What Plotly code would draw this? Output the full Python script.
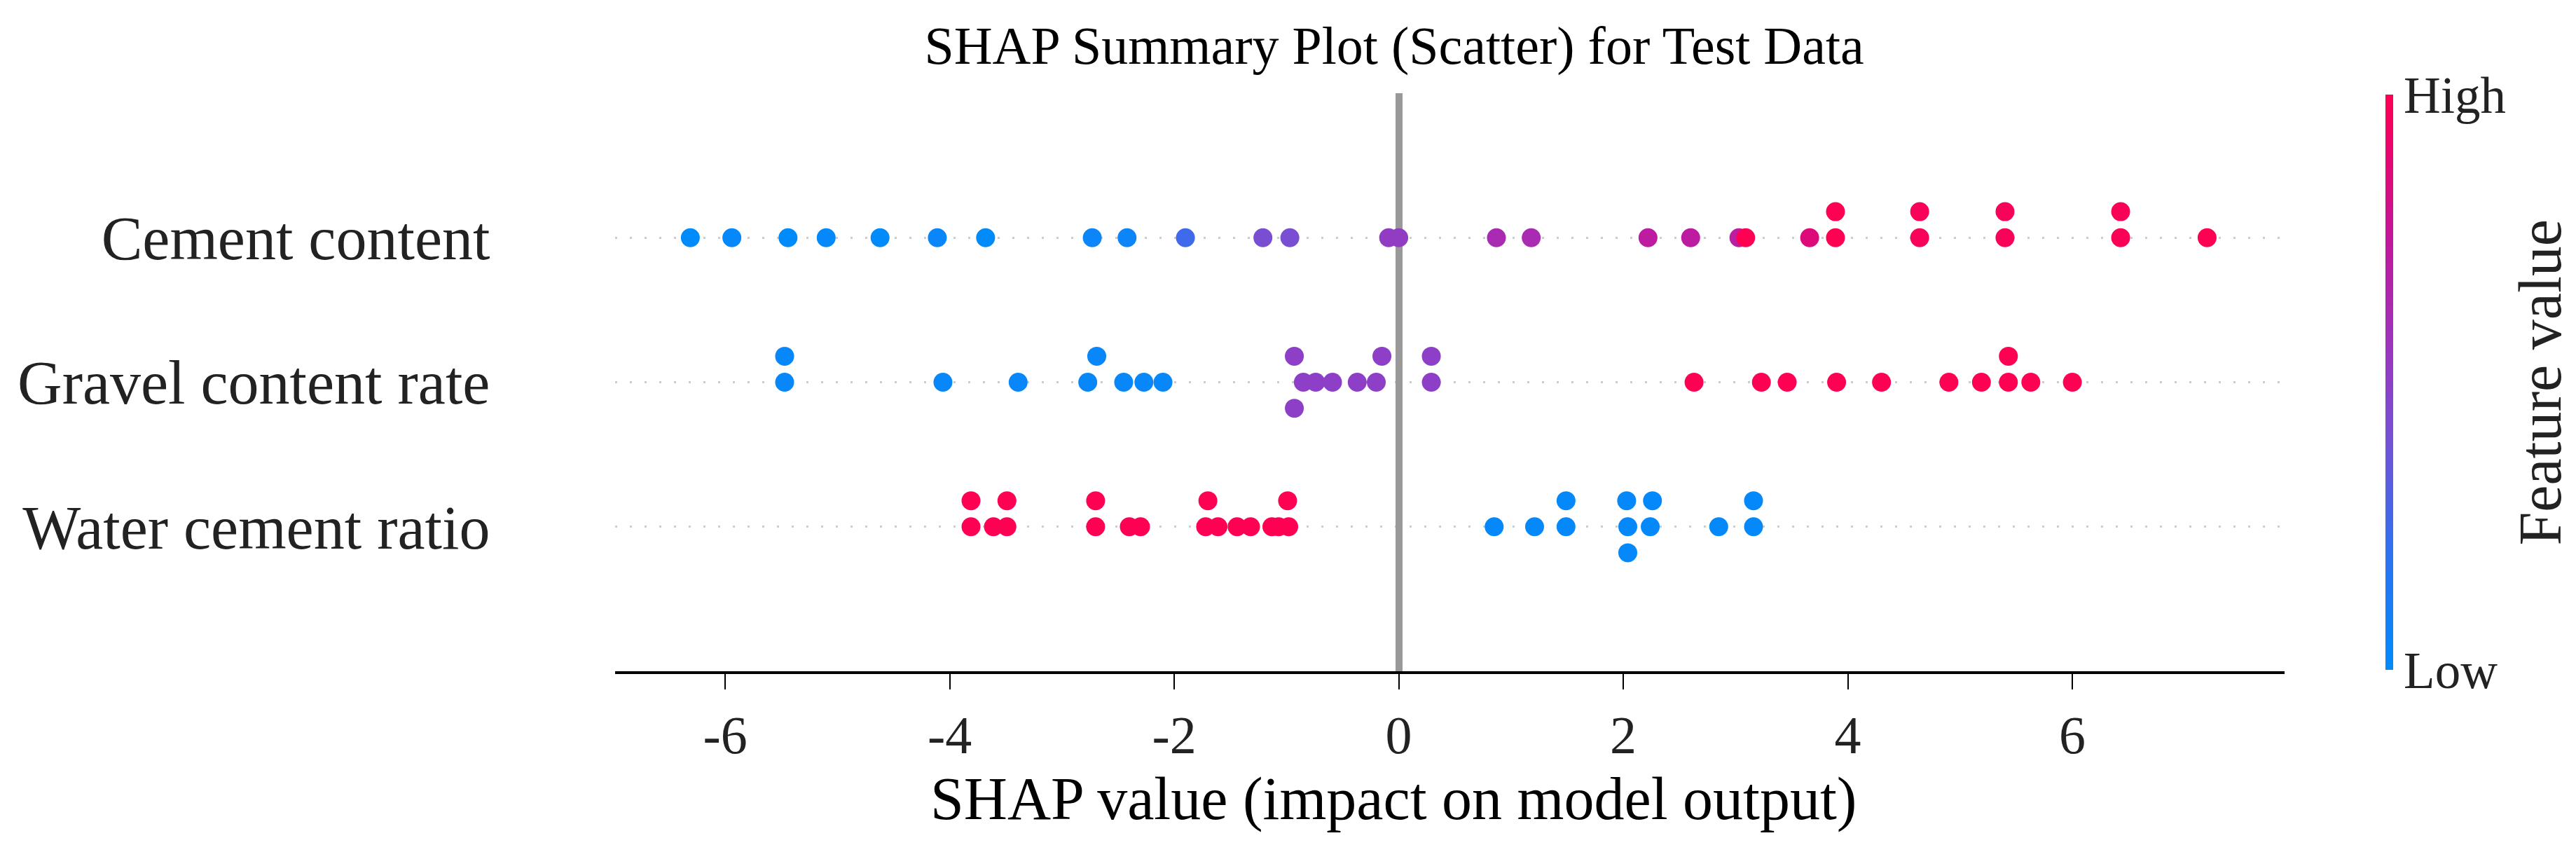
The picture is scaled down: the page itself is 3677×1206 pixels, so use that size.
import plotly.graph_objects as go

# features, bottom row first (y = 0, 1, 2)
features = ["Water cement ratio", "Gravel content rate", "Cement content"]

# SHAP values per feature
water_shap = [-3.81, -3.49, -3.81, -3.61, -3.49, -2.70, -2.70, -2.40, -2.30,
              -1.70, -0.99, -1.72, -1.61, -1.44, -1.32, -1.13, -1.07, -0.98,
              0.85, 1.21, 1.49, 1.49, 2.03, 2.04, 2.04, 2.26, 2.24, 2.85, 3.16, 3.16]
water_level = [1, 1, 0, 0, 0, 1, 0, 0, 0,
               1, 1, 0, 0, 0, 0, 0, 0, 0,
               0, 0, 1, 0, 1, 0, -1, 1, 0, 0, 1, 0]
water_fv = [1, 1, 1, 1, 1, 1, 1, 1, 1,
            1, 1, 1, 1, 1, 1, 1, 1, 1,
            0.02, 0.02, 0.02, 0.02, 0.02, 0.02, 0.02, 0.02, 0.02, 0.02, 0.02, 0.02]

gravel_shap = [-5.47, -5.47, -4.06, -3.39, -2.77, -2.69, -2.45, -2.27, -2.10,
               -0.93, -0.85, -0.74, -0.59, -0.37, -0.20, -0.93, -0.15, 0.29, 0.29,
               2.63, 3.23, 3.46, 3.90, 4.30, 4.90, 5.19, 5.43, 5.43, 5.63, 6.00]
gravel_level = [1, 0, 0, 0, 0, 1, 0, 0, 0,
                1, 0, 0, 0, 0, 0, -1, 1, 1, 0,
                0, 0, 0, 0, 0, 0, 0, 0, 1, 0, 0]
gravel_fv = [0.03, 0.03, 0.03, 0.03, 0.03, 0.03, 0.03, 0.03, 0.03,
             0.5, 0.5, 0.5, 0.5, 0.5, 0.5, 0.5, 0.5, 0.5, 0.5,
             1, 1, 1, 1, 1, 1, 1, 1, 1, 1, 1]

cement_shap = [-6.31, -5.94, -5.44, -5.10, -4.62, -4.11, -3.68, -2.73, -2.42, -1.90,
               -1.21, -0.97, -0.09, 0.0, 0.87, 1.18, 2.22, 2.60, 3.03, 3.09,
               3.66, 3.89, 3.89, 4.64, 4.64, 5.40, 5.40, 6.43, 6.43, 7.20]
cement_level = [0, 0, 0, 0, 0, 0, 0, 0, 0, 0,
                0, 0, 0, 0, 0, 0, 0, 0, 0, 0,
                0, 0, 1, 0, 1, 0, 1, 0, 1, 0]
cement_fv = [0.0, 0.02, 0.0, 0.02, 0.0, 0.04, 0.0, 0.05, 0.05, 0.25,
             0.42, 0.42, 0.52, 0.52, 0.62, 0.62, 0.72, 0.72, 0.7, 1.0,
             0.86, 1.0, 1.0, 0.97, 0.97, 0.97, 0.97, 0.98, 0.98, 1.0]

x_ticks = [-6, -4, -2, 0, 2, 4, 6]
x_tick_text = ["-6", "-4", "-2", "0", "2", "4", "6"]

shap_red_blue = [[0.0, "#008bfb"], [0.2, "#2d72f0"], [0.4, "#7551d6"],
                 [0.55, "#9937bf"], [0.75, "#c3169a"], [0.9, "#e8056e"],
                 [1.0, "#ff0052"]]

FONT = "Liberation Serif"
STEP = 0.18  # vertical stacking step of the swarm

fig = go.Figure()

rows = [(water_shap, water_level, water_fv),
        (gravel_shap, gravel_level, gravel_fv),
        (cement_shap, cement_level, cement_fv)]

for i, (vals, lev, fv) in enumerate(rows):
    fig.add_trace(go.Scatter(
        x=vals,
        y=[i + l * STEP for l in lev],
        mode="markers",
        name=features[i],
        marker=dict(size=27, color=fv, colorscale=shap_red_blue, cmin=0, cmax=1,
                    line=dict(width=0),
                    showscale=(i == 2),
                    colorbar=dict(
                        thickness=11, len=0.995, lenmode="fraction", y=0.5,
                        yanchor="middle", x=1.0605, xanchor="left", xpad=0, ypad=0,
                        outlinewidth=0, tickvals=[0, 1], ticktext=["Low", "High"],
                        ticks="", ticklabelposition="outside",
                        tickfont=dict(family=FONT, size=73, color="#222222"),
                    )),
        showlegend=False,
    ))

# colour bar label, rotated like matplotlib's cb.set_label
fig.add_annotation(
    text="Feature value", textangle=-90, xref="paper", yref="paper",
    x=1.1528, y=0.5, xanchor="center", yanchor="middle", showarrow=False,
    font=dict(family=FONT, size=86, color="#222222"),
)

# x label sits centred near zero in the original, so place it by hand
fig.add_annotation(
    text="SHAP value (impact on model output)", xref="x", yref="paper",
    x=-0.05, y=-0.221, xanchor="center", yanchor="middle", showarrow=False,
    font=dict(family=FONT, size=86, color="black"),
)

fig.update_layout(
    width=3677, height=1206,
    margin=dict(l=870, r=424, t=125, b=256),
    paper_bgcolor="white", plot_bgcolor="white",
    title=dict(text="SHAP Summary Plot (Scatter) for Test Data", x=0.4667, xref="paper",
               xanchor="center", y=0.953, yanchor="middle",
               font=dict(family=FONT, size=76, color="black")),
)

fig.update_xaxes(
    range=[-6.98, 7.89], tickvals=x_ticks, ticktext=x_tick_text,
    showgrid=False, zeroline=True, zerolinecolor="#999999", zerolinewidth=10,
    showline=True, linecolor="black", linewidth=4,
    ticks="outside", ticklen=22, tickwidth=2, tickcolor="black",
    tickfont=dict(family=FONT, size=76, color="#222222"),
)

fig.update_yaxes(
    range=[-1, 3], tickvals=[0, 1, 2], ticktext=features,
    showgrid=True, gridcolor="#cccccc", gridwidth=3, griddash="3px,18px",
    zeroline=False, showline=False,
    ticks="outside", ticklen=160, tickcolor="rgba(0,0,0,0)",
    tickfont=dict(family=FONT, size=88, color="#222222"),
)

fig.write_html("out.html")
